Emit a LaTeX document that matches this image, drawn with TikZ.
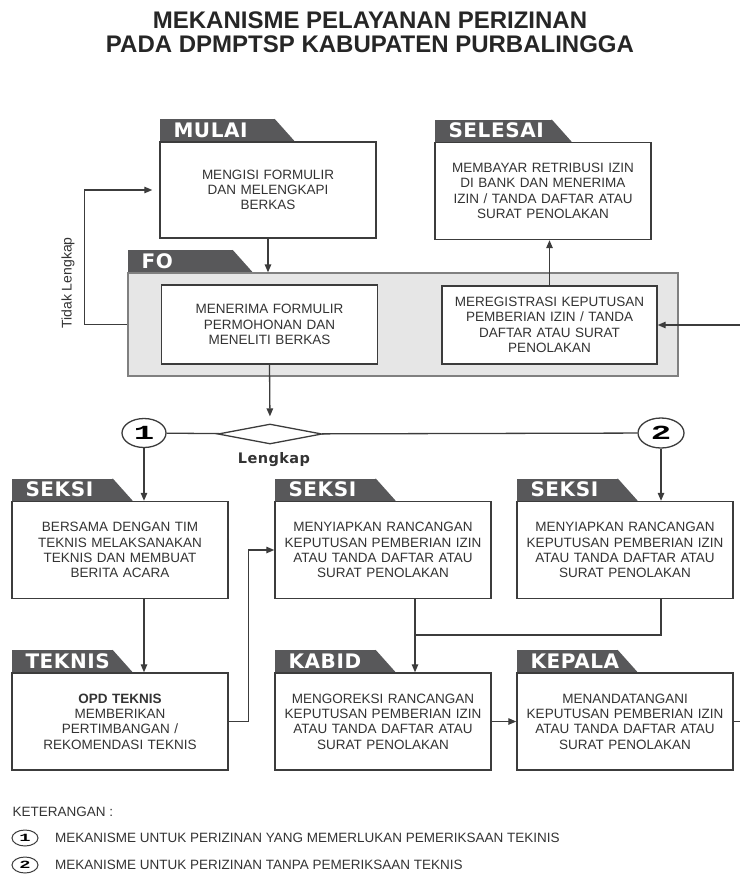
\documentclass[tikz,border=0pt]{standalone}
\usepackage{fontspec}
\usepackage{graphicx}
\setmainfont{Liberation Sans}
\newfontfamily\tabfont{DejaVu Sans}[LetterSpace=3]
\newfontfamily\numfont{Liberation Mono}
\usetikzlibrary{shapes.geometric, arrows.meta, positioning, backgrounds, calc}

\definecolor{tabgray}{HTML}{58585A}
\definecolor{linegray}{HTML}{3C3C3C}
\definecolor{fogray}{HTML}{E6E6E6}
\definecolor{txtgray}{HTML}{333333}

\newcommand{\numtxt}[2]{\scalebox{1.7}[1]{\numfont\bfseries\fontsize{#1}{#1}\selectfont #2}}

\begin{document}
\begin{tikzpicture}[
    x=1pt, y=-1pt,
    box/.style={rectangle, draw=linegray, line width=1.4pt, fill=white, minimum width=216pt, minimum height=97pt, text width=206pt, align=center, inner sep=0pt, text=txtgray, font=\fontsize{13.5}{15.3}\selectfont},
    tabhead/.style={rectangle, fill=tabgray, text=white, text width=#1, inner xsep=14pt, inner ysep=0pt, minimum height=22pt, align=left, font=\tabfont\bfseries\fontsize{20}{20}\selectfont},
    num/.style={ellipse, draw=linegray, line width=1.3pt, fill=white, minimum width=44pt, minimum height=29pt, inner sep=0pt},
    arrow/.style={-{Triangle[length=8pt, width=6.5pt]}, line width=1.3pt, draw=linegray},
    link/.style={line width=1.3pt, draw=linegray}
]
    \useasboundingbox (0,0) rectangle (739,877);

    % judul
    \node[align=center, text=black!85, font=\bfseries\fontsize{24}{24}\selectfont] (judul) at (370,32) {MEKANISME PELAYANAN PERIZINAN\\PADA DPMPTSP KABUPATEN PURBALINGGA};

    % baris atas
    \node[box, minimum height=96pt] (mulai) at (268,190) {MENGISI FORMULIR\\DAN MELENGKAPI\\BERKAS};
    \node[tabhead=87pt, above right=0pt of mulai.north west] (mulaitab) {MULAI};
    \node[box] (selesai) at (543,191) {MEMBAYAR RETRIBUSI IZIN\\DI BANK DAN MENERIMA\\IZIN / TANDA DAFTAR ATAU\\SURAT PENOLAKAN};
    \node[tabhead=89pt, above right=0pt of selesai.north west] (selesaitab) {SELESAI};

    % FO
    \node[rectangle, draw=gray, line width=1.3pt, fill=fogray, minimum width=550pt, minimum height=103pt] (fo) at (403,324.5) {};
    \node[tabhead=77pt, above right=0pt of fo.north west] (fotab) {FO};
    \node[box, minimum height=79pt] (menerima) at (269.5,324.5) {MENERIMA FORMULIR\\PERMOHONAN DAN\\MENELITI BERKAS};
    \node[box, minimum width=215pt, minimum height=78pt] (meregistrasi) at (549.5,325) {MEREGISTRASI KEPUTUSAN\\PEMBERIAN IZIN / TANDA\\DAFTAR ATAU SURAT\\PENOLAKAN};
    \node[rotate=90, text=txtgray, font=\fontsize{14}{14}\selectfont] (tidak) at (68,283) {Tidak Lengkap};

    % pemeriksaan
    \node[diamond, draw=linegray, line width=1.3pt, minimum width=104pt, minimum height=20pt, inner sep=0pt] (cek) at (270,434) {};
    \node[num] (satu) at (144,433) {\numtxt{20}{1}};
    \node[num, minimum width=46pt, minimum height=30pt] (dua) at (661,433) {\numtxt{20}{2}};
    \node[text=txtgray, font=\tabfont\bfseries\fontsize{14.5}{14.5}\selectfont] (lengkap) at (274,460) {Lengkap};

    % seksi
    \node[box] (seksisatu) at (120,550) {BERSAMA DENGAN TIM\\TEKNIS MELAKSANAKAN\\TEKNIS DAN MEMBUAT\\BERITA ACARA};
    \node[tabhead=73pt, above right=0pt of seksisatu.north west] (seksisatutab) {SEKSI};
    \node[box] (seksidua) at (383,550) {MENYIAPKAN RANCANGAN\\KEPUTUSAN PEMBERIAN IZIN\\ATAU TANDA DAFTAR ATAU\\SURAT PENOLAKAN};
    \node[tabhead=73pt, above right=0pt of seksidua.north west] (seksiduatab) {SEKSI};
    \node[box] (seksitiga) at (625,550) {MENYIAPKAN RANCANGAN\\KEPUTUSAN PEMBERIAN IZIN\\ATAU TANDA DAFTAR ATAU\\SURAT PENOLAKAN};
    \node[tabhead=73pt, above right=0pt of seksitiga.north west] (seksitigatab) {SEKSI};

    % baris bawah
    \node[box] (teknis) at (120,721.5) {\textbf{OPD TEKNIS}\\MEMBERIKAN\\PERTIMBANGAN /\\REKOMENDASI TEKNIS};
    \node[tabhead=73pt, above right=0pt of teknis.north west] (teknistab) {TEKNIS};
    \node[box] (kabid) at (383,721.5) {MENGOREKSI RANCANGAN\\KEPUTUSAN PEMBERIAN IZIN\\ATAU TANDA DAFTAR ATAU\\SURAT PENOLAKAN};
    \node[tabhead=73pt, above right=0pt of kabid.north west] (kabidtab) {KABID};
    \node[box] (kepala) at (625,721.5) {MENANDATANGANI\\KEPUTUSAN PEMBERIAN IZIN\\ATAU TANDA DAFTAR ATAU\\SURAT PENOLAKAN};
    \node[tabhead=73pt, above right=0pt of kepala.north west] (kepalatab) {KEPALA};

    % ujung miring tab
    \begin{scope}[on background layer]
        \fill[tabgray] (mulaitab.north east) -- (mulaitab.south east) -- ++(20,0) -- cycle;
        \fill[tabgray] (selesaitab.north east) -- (selesaitab.south east) -- ++(20,0) -- cycle;
        \fill[tabgray] (fotab.north east) -- (fotab.south east) -- ++(20,0) -- cycle;
        \fill[tabgray] (seksisatutab.north east) -- (seksisatutab.south east) -- ++(20,0) -- cycle;
        \fill[tabgray] (seksiduatab.north east) -- (seksiduatab.south east) -- ++(20,0) -- cycle;
        \fill[tabgray] (seksitigatab.north east) -- (seksitigatab.south east) -- ++(20,0) -- cycle;
        \fill[tabgray] (teknistab.north east) -- (teknistab.south east) -- ++(20,0) -- cycle;
        \fill[tabgray] (kabidtab.north east) -- (kabidtab.south east) -- ++(20,0) -- cycle;
        \fill[tabgray] (kepalatab.north east) -- (kepalatab.south east) -- ++(20,0) -- cycle;
    \end{scope}

    % keterangan
    \node[anchor=west, text=txtgray, font=\fontsize{13.5}{13.5}\selectfont] (ket) at (9,812) {KETERANGAN :};
    \node[num, minimum width=26pt, minimum height=16pt, line width=1pt] (ketsatu) at (25,838) {\numtxt{11}{1}};
    \node[right=13pt of ketsatu, text=txtgray, font=\fontsize{13.5}{13.5}\selectfont] (ketsatutxt) {MEKANISME UNTUK PERIZINAN YANG MEMERLUKAN PEMERIKSAAN TEKINIS};
    \node[num, minimum width=26pt, minimum height=16pt, line width=1pt] (ketdua) at (25,865) {\numtxt{11}{2}};
    \node[right=13pt of ketdua, text=txtgray, font=\fontsize{13.5}{13.5}\selectfont] (ketduatxt) {MEKANISME UNTUK PERIZINAN TANPA PEMERIKSAAN TEKNIS};

    % alur
    \coordinate (gabung) at (415,635);
    \coordinate (tepi) at (742,500);
    \draw[arrow] (mulai.south) -- (mulai.south |- fo.north);
    \draw[arrow, shorten >=7pt] (fo.west) -- ++(-43,0) |- (mulai.west);
    \draw[arrow, shorten >=7pt] (menerima.south) -- (cek.north);
    \draw[link] (satu) -- (cek);
    \draw[link] (cek) -- (dua);
    \draw[arrow] (satu) -- (satu |- seksisatu.north);
    \draw[arrow] (dua) -- (dua |- seksitiga.north);
    \draw[arrow] (satu |- seksisatu.south) -- (satu |- teknis.north);
    \draw[arrow] (teknis.east) -- ++(20,0) |- (seksidua.west);
    \draw[link] (dua |- seksitiga.south) |- (gabung);
    \draw[arrow] (gabung |- seksidua.south) -- (gabung |- kabid.north);
    \draw[arrow] (kabid.east) -- (kepala.west);
    \draw[arrow] (kepala.east) -| (tepi) |- (meregistrasi.east);
    \draw[arrow] (meregistrasi.north) -- (meregistrasi.north |- selesai.south);
\end{tikzpicture}
\end{document}
